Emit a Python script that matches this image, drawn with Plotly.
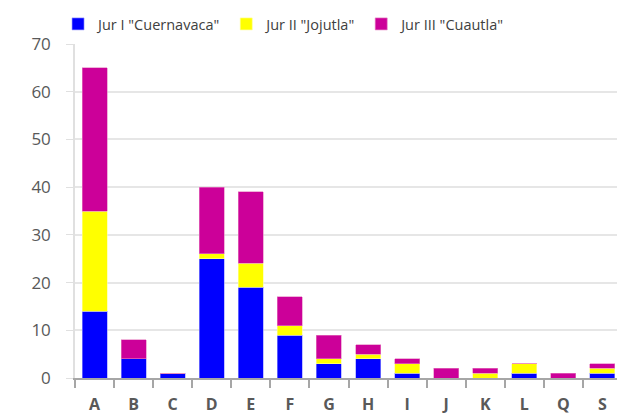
import plotly.graph_objects as go

categories = ["A", "B", "C", "D", "E", "F", "G", "H", "I", "J", "K", "L", "Q", "S"]
jur1 = [14, 4, 1, 25, 19, 9, 3, 4, 1, 0, 0, 1, 0, 1]
jur2 = [21, 0, 0, 1, 5, 2, 1, 1, 2, 0, 1, 2, 0, 1]
jur3 = [30, 4, 0, 14, 15, 6, 5, 2, 1, 2, 1, 0, 1, 1]
series_names = ['Jur I "Cuernavaca"', 'Jur II "Jojutla"', 'Jur III "Cuautla"']
colors = ["#0000FF", "#FFFF00", "#CC0099"]
edge = ["#9999FF", "#FFFF99", "#E680C2"]

fig = go.Figure()
for name, vals, c, e in zip(series_names, [jur1, jur2, jur3], colors, edge):
    fig.add_trace(go.Bar(x=categories, y=vals, name=name,
                         marker=dict(color=c, line=dict(color=e, width=0.6))))

fig.update_layout(
    barmode="stack",
    bargap=0.36,
    width=625, height=416,
    margin=dict(l=67, r=11, t=36, b=46, autoexpand=False),
    plot_bgcolor="white", paper_bgcolor="white",
    font=dict(family="Open Sans, Liberation Sans, sans-serif", color="#595959"),
    legend=dict(orientation="h", x=-0.031, xanchor="left", y=1.1078, yanchor="top",
                font=dict(size=14.5, color="#404040"),
                itemwidth=30, traceorder="normal", tracegroupgap=0),
    showlegend=True,
)
fig.update_xaxes(
    showline=True, linecolor="#A6A6A6", linewidth=2,
    ticks="outside", tickson="boundaries", ticklen=8, tickcolor="#A6A6A6", tickwidth=2,
    tickfont=dict(size=16, color="#595959", family="Open Sans, sans-serif", weight="bold"),
    ticklabelstandoff=11,
)
fig.update_yaxes(
    range=[0, 70], dtick=10, showgrid=True, gridcolor="#E6E6E6", gridwidth=1.5,
    showline=True, linecolor="#E0E0E0", linewidth=1.5,
    ticks="outside", ticklen=7, tickcolor="#E0E0E0",
    tickfont=dict(size=17, color="#595959"), zeroline=False,
    ticklabelstandoff=12,
)
fig.write_html("out.html")
